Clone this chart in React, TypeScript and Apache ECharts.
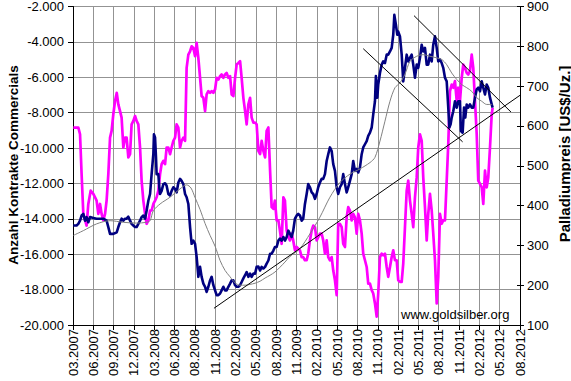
import React, { useEffect, useRef } from "react";
import * as echarts from "echarts";

// x values are week indices since 03.2007 (one tick label every 13 weeks)
const tickLabels = ["03.2007","06.2007","09.2007","12.2007","03.2008","06.2008","08.2008","11.2008","02.2009","05.2009","08.2009","11.2009","02.2010","05.2010","08.2010","11.2010","02.2011","05.2011","08.2011","11.2011","02.2012","05.2012","08.2012"];

const commercials: [number, number][] = [
[0.2,-8840],[3.4,-8840],[4.5,-9220],[5.5,-11470],[6.6,-13720],[8.7,-14380],[9.8,-13160],[11.3,-12410],[13.0,-12590],[14.1,-12780],[15.1,-12970],[16.2,-13720],[17.3,-13160],[18.3,-13720],[19.4,-14090],[20.5,-13720],[21.5,-12970],[22.6,-11470],[23.7,-9410],[24.7,-9030],[25.8,-8090],[26.9,-7340],[28.0,-6880],[29.0,-7530],[30.1,-7910],[31.1,-8280],[32.2,-9970],[33.3,-9410],[34.3,-9410],[35.4,-10530],[36.5,-10340],[37.5,-8660],[38.6,-8470],[39.7,-8190],[40.7,-8470],[41.8,-8660],[42.9,-9970],[43.9,-11840],[45.0,-12970],[46.1,-13720],[47.1,-14280],[48.2,-14090],[49.3,-13530],[50.3,-13530],[51.4,-13160],[52.5,-12970],[53.5,-12780],[54.6,-12410],[55.7,-11470],[56.7,-10910],[57.8,-10720],[58.9,-10910],[59.9,-9970],[61.0,-9970],[62.1,-10340],[63.1,-9970],[64.2,-9590],[65.3,-9410],[66.3,-8660],[67.4,-8840],[68.5,-9970],[69.5,-9590],[70.6,-9410],[71.7,-9590],[72.7,-5470],[73.8,-4720],[74.9,-4530],[75.9,-4250],[77.0,-4340],[78.1,-4810],[79.1,-4060],[80.2,-4910],[81.3,-6030],[82.3,-7060],[83.4,-7160],[84.5,-7910],[85.5,-6970],[86.6,-6780],[87.7,-6880],[88.7,-6780],[89.8,-6880],[90.9,-6690],[91.9,-6030],[93.0,-6130],[94.1,-5940],[95.1,-5840],[96.2,-6030],[97.3,-5840],[98.3,-5750],[99.4,-6030],[100.5,-5940],[101.5,-6970],[102.6,-7060],[103.7,-6030],[104.7,-5280],[105.8,-5190],[106.9,-5090],[107.9,-6030],[109.0,-7160],[110.1,-7910],[111.1,-8660],[112.2,-7530],[113.3,-7160],[114.3,-8280],[115.4,-8560],[116.5,-8560],[117.5,-8660],[118.6,-10160],[119.7,-10340],[120.7,-9590],[121.8,-10160],[122.9,-10530],[123.9,-9030],[125.0,-8840],[126.1,-11280],[127.1,-13340],[128.2,-13440],[129.2,-12970],[130.3,-14090],[131.4,-14090],[132.4,-14660],[133.5,-15410],[134.6,-12780],[135.6,-12970],[136.7,-14660],[137.8,-15030],[138.8,-15220],[139.9,-14840],[140.9,-15220],[142.0,-15780],[143.1,-15590],[145.2,-15780],[146.3,-16160],[147.3,-16160],[148.4,-16340],[149.5,-16340],[150.5,-15970],[151.6,-15220],[152.7,-14660],[153.7,-14380],[154.8,-14470],[155.9,-15220],[156.9,-15030],[158.0,-14840],[159.1,-14840],[160.1,-15220],[161.2,-15970],[162.3,-15220],[163.3,-16160],[164.4,-16340],[165.5,-16160],[166.5,-16910],[167.6,-17470],[168.7,-18310],[169.7,-14280],[170.8,-14280],[171.9,-14470],[172.9,-15410],[174.0,-15590],[175.1,-13910],[176.1,-13340],[177.2,-13530],[178.3,-14090],[179.3,-13720],[180.4,-13910],[181.5,-14840],[182.5,-13720],[183.6,-14090],[184.7,-14840],[185.7,-15970],[186.8,-16340],[187.9,-16720],[188.9,-17660],[190.0,-17660],[191.1,-18030],[192.1,-18220],[193.2,-18780],[194.3,-19530],[195.3,-18220],[196.4,-16160],[197.5,-15970],[198.5,-16060],[199.6,-15970],[200.7,-16720],[201.7,-17280],[202.8,-16720],[203.9,-16160],[204.9,-15780],[206.0,-16340],[207.1,-16340],[208.1,-17470],[209.2,-17560],[210.3,-17560],[211.3,-16530],[212.4,-14470],[213.5,-12410],[214.5,-11840],[215.6,-12970],[216.7,-13720],[217.7,-14470],[218.8,-12780],[219.9,-11660],[220.9,-9970],[222.0,-9220],[223.1,-9590],[224.1,-11660],[225.2,-13340],[226.3,-15220],[227.3,-13720],[228.4,-12590],[229.5,-13530],[230.5,-14840],[231.6,-16340],[232.7,-18780],[233.7,-17280],[234.8,-13720],[235.9,-14280],[236.9,-14090],[238.0,-14090],[239.1,-11840],[240.1,-9780],[241.2,-6780],[242.3,-6410],[243.3,-6590],[244.4,-6220],[245.5,-7340],[246.5,-6590],[247.6,-7340],[248.7,-6030],[249.7,-5280],[250.8,-5470],[251.9,-5750],[252.9,-5840],[254.0,-5660],[255.1,-4720],[256.1,-5470],[257.2,-7340],[258.3,-9220],[259.3,-11840],[260.4,-12030],[261.5,-12220],[262.5,-13160],[263.6,-11280],[264.7,-12220],[265.7,-11660],[266.8,-9970],[267.9,-8090],[268.5,-7720]
];

const palladium: [number, number][] = [
[0.2,350],[2.3,350],[3.4,354],[4.5,362],[5.5,375],[6.6,379],[7.7,362],[8.7,371],[9.8,358],[10.9,371],[13.0,369],[15.1,367],[17.3,367],[19.4,367],[21.5,362],[22.6,346],[23.7,329],[25.8,329],[28.0,333],[29.0,346],[30.1,358],[31.1,367],[32.2,362],[33.3,367],[34.3,367],[35.4,372],[36.5,362],[37.5,354],[38.6,350],[39.7,346],[40.7,346],[41.8,354],[42.9,362],[43.9,371],[45.0,375],[46.1,367],[47.1,387],[48.2,412],[49.3,429],[50.3,479],[51.4,529],[51.8,579],[52.5,571],[53.1,521],[53.5,479],[54.6,479],[55.2,446],[55.7,429],[56.7,437],[57.8,454],[58.9,456],[59.9,450],[61.0,429],[62.1,425],[63.1,437],[64.2,446],[65.3,442],[66.3,433],[67.4,458],[68.5,467],[69.5,462],[70.6,454],[71.7,429],[72.7,421],[73.8,404],[74.9,346],[75.9,304],[77.0,312],[78.1,304],[79.1,271],[80.2,221],[81.3,246],[82.3,221],[83.4,204],[84.5,196],[85.5,183],[86.6,196],[87.7,212],[88.7,221],[89.8,200],[90.9,187],[91.9,175],[93.0,175],[94.1,179],[95.1,187],[96.2,196],[97.3,187],[98.3,187],[99.4,196],[100.5,204],[101.5,212],[102.6,212],[103.7,200],[104.7,196],[105.8,196],[106.9,200],[107.9,208],[109.0,217],[110.1,225],[111.1,233],[112.2,221],[113.3,229],[114.3,221],[115.4,229],[116.5,229],[117.5,246],[118.6,247],[119.7,237],[120.7,246],[121.8,242],[122.9,246],[123.9,254],[125.0,262],[126.1,279],[127.1,279],[128.2,287],[129.2,296],[130.3,296],[131.4,312],[132.4,317],[133.5,312],[134.6,321],[135.6,312],[136.7,321],[137.8,337],[138.8,329],[139.9,321],[140.9,337],[142.0,367],[143.1,375],[144.1,379],[145.2,375],[146.3,362],[147.3,367],[148.4,404],[149.5,429],[150.5,454],[151.6,446],[152.7,433],[153.7,429],[154.8,417],[155.9,429],[156.9,446],[158.0,458],[159.1,467],[160.1,467],[161.2,479],[162.3,512],[163.3,529],[164.4,546],[165.5,537],[166.5,504],[167.6,487],[168.7,446],[169.7,429],[170.8,446],[171.9,454],[172.9,479],[174.0,454],[175.1,433],[176.1,446],[177.2,462],[178.3,479],[179.3,512],[180.4,487],[181.5,492],[182.5,483],[183.6,496],[184.7,529],[185.7,546],[186.8,554],[187.9,562],[188.9,575],[190.0,583],[191.1,596],[192.1,629],[193.2,662],[193.8,725],[194.7,671],[195.3,704],[196.4,733],[197.5,754],[198.5,762],[199.6,758],[200.7,779],[201.7,779],[202.8,787],[203.9,796],[204.9,829],[205.6,879],[206.6,854],[207.5,829],[208.1,837],[209.2,825],[210.3,779],[211.3,712],[212.4,746],[213.5,779],[214.5,762],[215.6,771],[216.7,779],[217.7,754],[218.8,721],[219.9,754],[220.9,746],[222.0,771],[223.1,804],[224.1,787],[225.2,796],[226.3,754],[227.3,754],[228.4,779],[229.5,762],[230.5,804],[231.6,825],[232.7,796],[233.7,762],[234.8,767],[235.9,758],[236.9,746],[238.0,721],[239.1,712],[240.1,646],[240.8,596],[241.6,604],[242.3,621],[243.3,637],[244.4,662],[245.5,646],[246.5,662],[247.6,662],[248.2,587],[249.3,583],[250.2,646],[251.0,621],[251.9,654],[252.9,646],[254.0,654],[255.1,646],[256.1,646],[257.2,671],[258.3,692],[259.3,696],[260.4,687],[261.5,712],[262.5,696],[263.6,679],[264.7,704],[265.7,696],[266.8,671],[267.9,654],[268.5,646]
];

const movingAverage: [number, number][] = [
[0.2,325],[6.6,337],[15.1,354],[23.7,362],[32.2,358],[40.7,356],[47.1,358],[49.3,362],[51.4,387],[55.7,404],[62.1,421],[68.5,442],[72.7,452],[75.5,444],[78.1,420],[81.3,390],[84.5,355],[87.7,325],[90.9,298],[94.1,262],[97.3,237],[100.5,221],[103.7,206],[106.9,200],[110.1,200],[113.3,202],[116.5,205],[119.7,210],[122.9,218],[126.1,225],[129.2,233],[132.4,245],[135.6,258],[138.8,272],[145.2,292],[151.6,329],[158.0,371],[164.4,421],[170.8,458],[177.2,479],[183.6,492],[190.0,508],[193.2,521],[196.4,562],[199.6,612],[202.8,662],[206.0,696],[209.2,708],[212.4,730],[215.6,762],[219.9,775],[224.1,779],[228.4,775],[232.7,771],[235.9,767],[239.1,754],[242.3,733],[245.5,717],[248.7,704],[251.9,696],[255.1,687],[258.3,671],[261.5,662],[264.7,654],[267.9,654]
];

const supportLine: [number, number][] = [[90.2,142],[286,677]];
const upperChannel: [number, number][] = [[218.2,877],[280.2,635]];
const lowerChannel: [number, number][] = [[185.7,794],[249.3,560]];

const FONT = "'Liberation Sans', Arial, sans-serif";

function fmtThousands(v: number): string {
  const neg = v < 0;
  const s = Math.abs(Math.round(v)).toString();
  const withDots = s.replace(/\B(?=(\d{3})+(?!\d))/g, ".");
  return (neg ? "-" : "") + withDots;
}

export default function App() {
  const ref = useRef<HTMLDivElement>(null);
  useEffect(() => {
    document.body.style.margin = "0";
    const chart = echarts.init(ref.current!, null, { renderer: "svg" });
    const lineSeries = (data: [number, number][], color: string, width: number, yAxisIndex: number, z: number) => ({
      type: "line",
      data,
      yAxisIndex,
      showSymbol: false,
      symbol: "none",
      silent: true,
      z,
      lineStyle: { color, width, join: "round" },
    });
    chart.setOption({
      animation: false,
      backgroundColor: "#ffffff",
      grid: { left: 73, right: 51, top: 5, bottom: 56, containLabel: false },
      xAxis: {
        type: "value",
        min: 0,
        max: 286,
        interval: 13,
        axisLine: { show: true, lineStyle: { color: "#000", width: 1 } },
        axisTick: { show: true, length: 5, lineStyle: { color: "#000" } },
        axisLabel: {
          rotate: 90,
          margin: 4,
          color: "#000",
          fontSize: 13,
          fontFamily: FONT,
          formatter: (v: number) => tickLabels[Math.round(v / 13)] ?? "",
        },
        splitLine: { show: true, lineStyle: { color: "#939393", width: 1 } },
      },
      yAxis: [
        {
          type: "value",
          position: "left",
          min: -20000,
          max: -2000,
          interval: 2000,
          axisLine: { show: true, lineStyle: { color: "#000", width: 1 } },
          axisTick: { show: true, length: 5, lineStyle: { color: "#000" } },
          axisLabel: { margin: 9, color: "#000", fontSize: 13, fontFamily: FONT, formatter: (v: number) => fmtThousands(v) },
          splitLine: { show: true, lineStyle: { color: "#939393", width: 1 } },
        },
        {
          type: "value",
          position: "right",
          offset: 0,
          min: 100,
          max: 900,
          interval: 100,
          axisLine: { show: true, onZero: false, lineStyle: { color: "#000", width: 1 } },
          axisTick: { show: true, length: 4, lineStyle: { color: "#000" } },
          axisLabel: { margin: 7, color: "#000", fontSize: 13, fontFamily: FONT },
          splitLine: { show: false },
        },
        {
          type: "value",
          position: "right",
          offset: 0,
          min: 100,
          max: 900,
          interval: 100,
          axisLine: { show: false },
          axisTick: { show: true, inside: true, length: 3, lineStyle: { color: "#000" } },
          axisLabel: { show: false },
          splitLine: { show: false },
        },
      ],
      series: [
        lineSeries(commercials, "#ff00ff", 2.7, 0, 2),
        lineSeries(palladium, "#000080", 2.6, 1, 3),
        { ...lineSeries(movingAverage, "#808080", 1, 1, 4), smooth: 0.3 },
        lineSeries(supportLine, "#000000", 1, 1, 5),
        lineSeries(upperChannel, "#000000", 1, 1, 5),
        lineSeries(lowerChannel, "#000000", 1, 1, 5),
      ],
      graphic: [
        {
          type: "text",
          x: 13,
          y: 165,
          rotation: Math.PI / 2,
          silent: true,
          style: {
            text: "Anzahl Kontrakte Commercials",
            fontSize: 13.5,
            fontWeight: "bold",
            fontFamily: FONT,
            fill: "#000",
            align: "center",
            verticalAlign: "middle",
            textAlign: "center",
            textVerticalAlign: "middle",
          },
        },
        {
          type: "text",
          x: 564,
          y: 154,
          rotation: Math.PI / 2,
          silent: true,
          style: {
            text: "Palladiumpreis [US$/Uz.]",
            fontSize: 15,
            fontWeight: "bold",
            fontFamily: FONT,
            fill: "#000",
            align: "center",
            verticalAlign: "middle",
            textAlign: "center",
            textVerticalAlign: "middle",
          },
        },
        {
          type: "text",
          x: 401,
          y: 314,
          silent: true,
          z: 10,
          style: {
            text: "www.goldsilber.org",
            fontSize: 13,
            fontFamily: FONT,
            fill: "#000",
            align: "left",
            verticalAlign: "middle",
            textAlign: "left",
            textVerticalAlign: "middle",
          },
        },
      ],
    });
    return () => chart.dispose();
  }, []);
  return <div ref={ref} style={{ width: 571, height: 381 }} />;
}
